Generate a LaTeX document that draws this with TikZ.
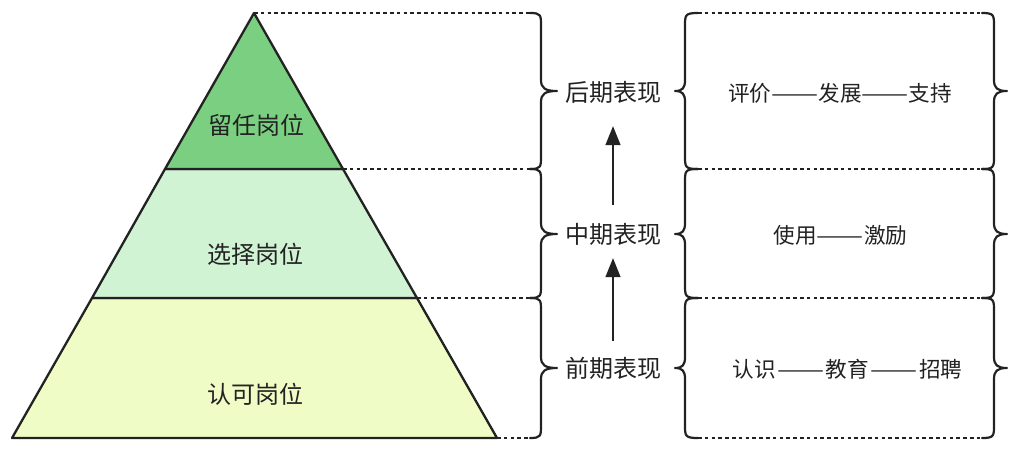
\documentclass[tikz,border=0pt]{standalone}
\usepackage{fontspec}
\setmainfont{Noto Sans CJK SC}
\usetikzlibrary{arrows.meta}
\definecolor{inkc}{HTML}{222222}
\definecolor{topfill}{HTML}{7BCF80}
\definecolor{midfill}{HTML}{D0F3D3}
\definecolor{lowfill}{HTML}{F0FCC5}
\tikzset{
  tier/.style={draw=inkc,line width=2.3pt,line join=round},
  guide/.style={draw=inkc,line width=2.6pt,dash pattern=on 3.6pt off 3.2pt},
  bracket/.style={draw=inkc,line width=2.2pt,line join=round,line cap=round},
  riser/.style={draw=inkc,line width=2.6pt,-{Triangle[length=19pt,width=14.5pt]}},
  tiertext/.style={text=inkc,font=\fontsize{24pt}{24pt}\selectfont,inner sep=0pt},
  phasetext/.style={text=inkc,font=\fontsize{24pt}{24pt}\selectfont,inner sep=0pt},
  chaintext/.style={text=inkc,font=\fontsize{21.6pt}{24pt}\selectfont,inner sep=0pt}
}
\newcommand{\longdash}{\scalebox{1.3}[1]{——}}
% #1 end x, #2 spine x, #3 tip x, #4 top y, #5 tip y, #6 bottom y
\newcommand{\curlymark}[6]{%
  \draw[bracket] (#1,#4) .. controls (#2,#4) and (#2,{#4+2}) .. (#2,{#4+13})
    -- (#2,{#5-11}) .. controls (#2,{#5-3}) and ({#2+0.25*(#3-#2)},#5) .. (#3,#5)
    .. controls ({#2+0.25*(#3-#2)},#5) and (#2,{#5+3}) .. (#2,{#5+11})
    -- (#2,{#6-13}) .. controls (#2,{#6-2}) and (#2,#6) .. (#1,#6);}
\begin{document}
\begin{tikzpicture}[x=1pt,y=-1pt]
\useasboundingbox (0,0) rectangle (1011,448);
% pyramid corners
\coordinate (apex) at (254,13);
\coordinate (ul) at (165,169);
\coordinate (ur) at (343,169);
\coordinate (ml) at (92,298);
\coordinate (mr) at (417,298);
\coordinate (bl) at (12,438);
\coordinate (br) at (497,438);
\filldraw[tier,fill=lowfill] (ml) -- (mr) -- (br) -- (bl) -- cycle;
\filldraw[tier,fill=midfill] (ul) -- (ur) -- (mr) -- (ml) -- cycle;
\filldraw[tier,fill=topfill] (apex) -- (ur) -- (ul) -- cycle;
% guide ends
\coordinate (g1) at (530,13);
\coordinate (g2) at (530,169);
\coordinate (g3) at (530,298);
\coordinate (g4) at (530,438);
\coordinate (h1a) at (698,13);
\coordinate (h1b) at (982,13);
\coordinate (h2a) at (698,169);
\coordinate (h2b) at (982,169);
\coordinate (h3a) at (698,298);
\coordinate (h3b) at (982,298);
\coordinate (h4a) at (698,438);
\coordinate (h4b) at (982,438);
\draw[guide] (apex) -- (g1);
\draw[guide] (ur) -- (g2);
\draw[guide] (mr) -- (g3);
\draw[guide] (br) -- (g4);
\draw[guide] (h1a) -- (h1b);
\draw[guide] (h2a) -- (h2b);
\draw[guide] (h3a) -- (h3b);
\draw[guide] (h4a) -- (h4b);
% braces
\curlymark{530}{541}{557}{13}{91}{169}
\curlymark{530}{541}{557}{169}{234}{298}
\curlymark{530}{541}{557}{298}{368}{438}
\curlymark{698}{685}{675}{13}{91}{169}
\curlymark{698}{685}{675}{169}{234}{298}
\curlymark{698}{685}{675}{298}{368}{438}
\curlymark{982}{994}{1007}{13}{91}{169}
\curlymark{982}{994}{1007}{169}{234}{298}
\curlymark{982}{994}{1007}{298}{368}{438}
% labels
\node[tiertext] (t1) at (256,125) {留任岗位};
\node[tiertext] (t2) at (255,254) {选择岗位};
\node[tiertext] (t3) at (255,394) {认可岗位};
\node[phasetext] (p3) at (613,92) {后期表现};
\node[phasetext] (p2) at (613,234) {中期表现};
\node[phasetext] (p1) at (613,368) {前期表现};
\node[chaintext] (c3) at (840,93) {评价\longdash 发展\longdash 支持};
\node[chaintext] (c2) at (840.5,235) {使用\longdash 激励};
\node[chaintext] (c1) at (847.5,369) {认识\hspace{1.5pt}\longdash\hspace{1.5pt}教育\hspace{1.5pt}\longdash\hspace{1.5pt}招聘};
% arrows
\coordinate (a1s) at (613,205);
\coordinate (a1e) at (613,126);
\coordinate (a2s) at (613,341);
\coordinate (a2e) at (613,258);
\draw[riser] (a1s) -- (a1e);
\draw[riser] (a2s) -- (a2e);
\end{tikzpicture}
\end{document}
